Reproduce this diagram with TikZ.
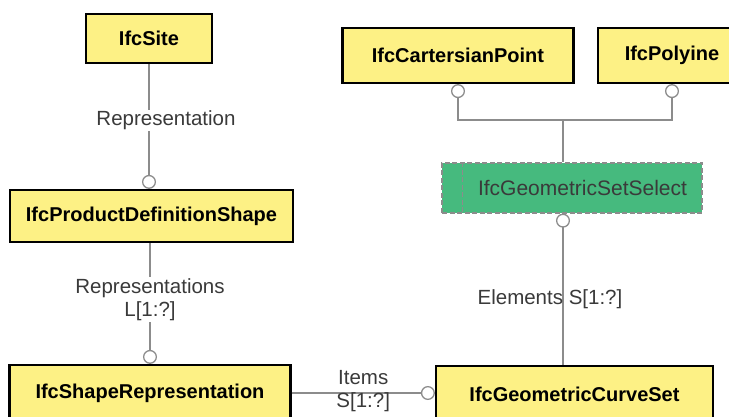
\documentclass[tikz,border=0pt]{standalone}
\usepackage{fontspec}
\setmainfont{Liberation Sans}
\usepackage{xcolor}
\usepackage{tikz}
\usetikzlibrary{arrows.meta}

\definecolor{entyellow}{RGB}{253,241,133}
\definecolor{selgreen}{RGB}{70,186,126}
\definecolor{relgray}{RGB}{140,140,140}
\definecolor{lbltext}{RGB}{58,58,58}

\begin{document}
\begin{tikzpicture}[x=1pt,y=-1pt,->,>={Circle[open,fill=white,length=14pt,width=14pt]},
    relation/.style={draw=relgray,line width=1.3pt},
    entity/.style={rectangle,fill=entyellow,draw=black,line width=2.2pt,
      font=\fontsize{20}{23}\selectfont\bfseries,minimum height=52pt},
    select/.style={rectangle,fill=selgreen,draw=relgray,line width=1.3pt,
      dash pattern=on 5pt off 2.5pt,text=lbltext,font=\fontsize{21}{24}\selectfont,
      minimum width=260pt,minimum height=50pt},
    role/.style={text=lbltext,font=\fontsize{20.5}{23.5}\selectfont,align=center,inner sep=1pt}]
    \clip (0,0) rectangle (729,417);
    \useasboundingbox (0,0) rectangle (729,417);

    \node[entity,minimum width=126pt,minimum height=49pt] (site) at (149,38.5) {IfcSite};
    \node[entity,minimum width=283pt] (pds) at (151.5,216) {IfcProductDefinitionShape};
    \node[entity,minimum width=281pt,minimum height=56pt] (shr) at (150,393) {IfcShapeRepresentation};
    \node[entity,minimum width=277pt,minimum height=56pt] (gcs) at (574.5,394) {IfcGeometricCurveSet};
    \node[entity,minimum width=231pt,minimum height=55pt] (cpt) at (458,55.5) {IfcCartersianPoint};
    \node[entity,minimum width=148pt,minimum height=55pt] (poly) at (672,55.5) {IfcPolyine};
    \node[select] (gss) at (572,188) {\hspace*{21pt}IfcGeometricSetSelect};
    \draw[-,draw=relgray,line width=1.3pt,dash pattern=on 5pt off 2.5pt]
      ([xshift=21pt]gss.north west) -- ([xshift=21pt]gss.south west);

    \coordinate (fork) at (563,120);

    \draw[relation] (site.south) -- (site.south |- pds.north)
      node[role,fill=white,pos=0.45,xshift=17pt] {Representation};
    \draw[relation] (pds.south -| shr) -- (shr.north)
      node[role,fill=white,midway,yshift=4pt] {Representations\\L[1:?]};
    \draw[relation] (shr.east) -- (gcs.west |- shr.east)
      node[role,midway,yshift=2pt] {Items\\S[1:?]};
    \draw[relation] (gcs.north -| fork) -- (fork |- gss.south)
      node[role,midway,xshift=-13pt,yshift=-10pt] {Elements S[1:?]};
    \draw[relation,-] (fork) -- (fork |- gss.north);
    \draw[relation,<-] (cpt.south) |- (fork);
    \draw[relation,<-] (poly.south) |- (fork);
  \end{tikzpicture}
\end{document}
